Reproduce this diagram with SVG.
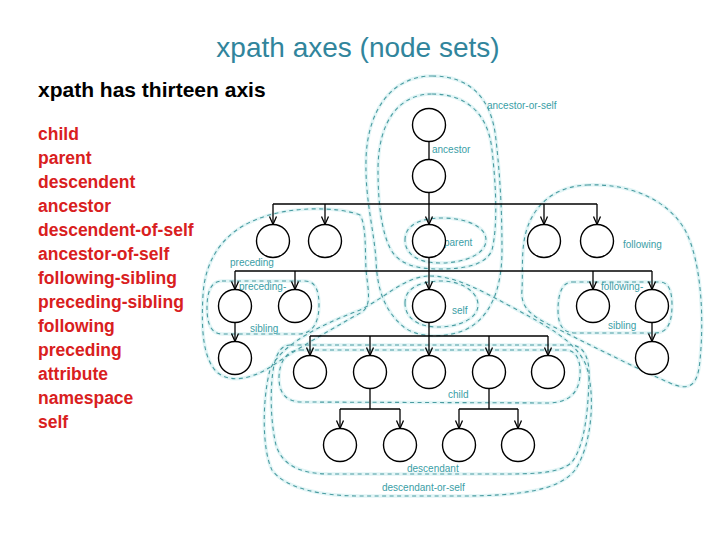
<svg xmlns="http://www.w3.org/2000/svg" width="720" height="540" viewBox="0 0 720 540">
<style>
.title{font-family:"Liberation Sans",Arial,sans-serif;font-size:28px;fill:#31859c}
.sub{font-family:"Liberation Sans",Arial,sans-serif;font-size:21px;font-weight:bold;fill:#000}
.item{font-family:"Liberation Sans",Arial,sans-serif;font-size:17.5px;font-weight:bold;fill:#d9201e}
.lbl{font-family:"Liberation Sans",Arial,sans-serif;font-size:10px;fill:#3a9ea6}
.glow{fill:none;stroke:#e2f5f6;stroke-width:3.5}
.dash{fill:none;stroke:#4a9ca1;stroke-width:1.1;stroke-dasharray:4 3.5}
.node circle{fill:#fff;stroke:#000;stroke-width:1.4}
.edge{fill:none;stroke:#000;stroke-width:1.3}
.arr{marker-end:url(#ah)}
</style>
<defs>
<marker id="ah" viewBox="-10 -5 12 10" refX="0" refY="0" markerWidth="12" markerHeight="10" markerUnits="userSpaceOnUse" orient="auto">
<path d="M-8,-3.5 L0,0 L-8,3.5" fill="none" stroke="#000" stroke-width="1.3"/>
</marker>
<path id="cAos" d="M432,76 C470,76 492,98 496,140 C500,175 502,210 502,250 C502,290 490,318 465,330 C445,338 420,338 405,328 C385,312 377,290 376,260 C374,230 365,200 366,160 C367,110 392,76 432,76 Z"/>
<path id="cAnc" d="M432,94 C465,94 488,112 492,150 C496,185 498,225 492,250 C486,265 465,269 440,269 C415,269 398,264 390,248 C382,232 378,205 378,170 C378,120 400,94 432,94 Z"/>
<path id="cPar" d="M405,240 C405,225 420,218 442,218 C465,218 486,226 486,240 C486,254 465,263 440,263 C418,263 405,254 405,240 Z"/>
<path id="cSelf" d="M405,303 C405,288 420,281 442,281 C462,281 478,292 478,305 C478,318 460,327 438,327 C418,327 405,318 405,303 Z"/>
<path id="cDos" d="M430,276 C455,276 480,290 510,306 C545,325 575,340 586,365 C596,395 592,445 575,470 C560,490 520,496 460,496 L360,496 C320,496 285,488 272,470 C262,450 262,400 270,370 C280,345 320,325 360,310 C385,298 405,276 430,276 Z"/>
<path id="cDesc" d="M290,345 L570,345 C585,345 590,360 589,380 C588,410 585,445 572,462 C560,474 530,474 500,474 L330,474 C300,474 282,465 276,445 C270,420 270,385 274,365 C277,352 282,345 290,345 Z"/>
<path id="cChild" d="M300,350 L565,350 C576,350 581,360 580,375 C579,392 570,402 550,403 L300,402 C285,401 279,392 279,378 C279,362 287,350 300,350 Z"/>
<path id="cPrec" d="M360,215 C340,207 290,205 255,220 C225,232 205,258 203,295 C201,330 203,360 218,373 C232,384 255,378 275,364 C300,347 330,330 362,312 C372,305 368,290 366,270 C365,245 366,225 360,215 Z"/>
<path id="cFol" d="M587,185 C630,183 668,200 685,230 C702,262 704,320 700,360 C698,385 690,392 670,383 C640,370 600,350 560,330 C535,318 520,310 522,290 C523,270 521,250 526,232 C535,200 560,186 587,185 Z"/>
<path id="cPs" d="M222,281 L305,281 C315,281 319,290 319,305 C319,322 313,333 300,334 L222,334 C212,334 207,325 207,308 C207,290 212,281 222,281 Z"/>
<path id="cFs" d="M572,282 L660,282 C668,282 672,290 672,305 C672,322 668,333 655,333 L575,333 C563,333 558,325 558,310 C558,292 563,282 572,282 Z"/>
</defs>

<text class="title" x="358" y="57" text-anchor="middle">xpath axes (node sets)</text>
<text class="sub" x="38" y="97">xpath has thirteen axis</text>
<g id="axis-list">
<text class="item" x="38" y="140">child</text>
<text class="item" x="38" y="164">parent</text>
<text class="item" x="38" y="188">descendent</text>
<text class="item" x="38" y="212">ancestor</text>
<text class="item" x="38" y="236">descendent-of-self</text>
<text class="item" x="38" y="260">ancestor-of-self</text>
<text class="item" x="38" y="284">following-sibling</text>
<text class="item" x="38" y="308">preceding-sibling</text>
<text class="item" x="38" y="332">following</text>
<text class="item" x="38" y="356">preceding</text>
<text class="item" x="38" y="380">attribute</text>
<text class="item" x="38" y="404">namespace</text>
<text class="item" x="38" y="428">self</text>
</g>

<g id="regions">
<use href="#cAos" class="glow"/><use href="#cAnc" class="glow"/><use href="#cPar" class="glow"/><use href="#cSelf" class="glow"/>
<use href="#cDos" class="glow"/><use href="#cDesc" class="glow"/><use href="#cChild" class="glow"/><use href="#cPrec" class="glow"/>
<use href="#cFol" class="glow"/><use href="#cPs" class="glow"/><use href="#cFs" class="glow"/>
<use href="#cAos" class="dash"/><use href="#cAnc" class="dash"/><use href="#cPar" class="dash"/><use href="#cSelf" class="dash"/>
<use href="#cDos" class="dash"/><use href="#cDesc" class="dash"/><use href="#cChild" class="dash"/><use href="#cPrec" class="dash"/>
<use href="#cFol" class="dash"/><use href="#cPs" class="dash"/><use href="#cFs" class="dash"/>
</g>

<g id="region-labels">
<text class="lbl" x="487" y="109">ancestor-or-self</text>
<text class="lbl" x="432" y="153">ancestor</text>
<text class="lbl" x="444" y="246">parent</text>
<text class="lbl" x="623" y="248">following</text>
<text class="lbl" x="230" y="266">preceding</text>
<text class="lbl" x="239" y="290">preceding-</text>
<text class="lbl" x="452" y="314">self</text>
<text class="lbl" x="601" y="290">following-</text>
<text class="lbl" x="250" y="332">sibling</text>
<text class="lbl" x="608" y="329">sibling</text>
<text class="lbl" x="448" y="398">child</text>
<text class="lbl" x="407" y="472">descendant</text>
<text class="lbl" x="382" y="491">descendant-or-self</text>
</g>

<g id="connectors">
<path class="edge" d="M429,142 V159.5"/>
<path class="edge arr" d="M429,192.5 V224.5"/>
<path class="edge" d="M273,204 H597"/>
<path class="edge arr" d="M273,204 V224.5"/>
<path class="edge arr" d="M325,204 V224.5"/>
<path class="edge arr" d="M544,204 V224.5"/>
<path class="edge arr" d="M597,204 V224.5"/>
<path class="edge arr" d="M429,257.5 V289.5"/>
<path class="edge" d="M235,271 H652"/>
<path class="edge arr" d="M235,271 V289.5"/>
<path class="edge arr" d="M295,271 V289.5"/>
<path class="edge arr" d="M593,271 V289.5"/>
<path class="edge arr" d="M652,271 V289.5"/>
<path class="edge arr" d="M429,322.5 V355.5"/>
<path class="edge" d="M310,336 H548"/>
<path class="edge arr" d="M310,336 V355.5"/>
<path class="edge arr" d="M370,336 V355.5"/>
<path class="edge arr" d="M489,336 V355.5"/>
<path class="edge arr" d="M548,336 V355.5"/>
<path class="edge arr" d="M235,322.5 V341.5"/>
<path class="edge arr" d="M652,322.5 V341.5"/>
<path class="edge" d="M370,388.5 V409 M340,409 H400"/>
<path class="edge arr" d="M340,409 V428.5"/>
<path class="edge arr" d="M400,409 V428.5"/>
<path class="edge" d="M489,388.5 V409 M459,409 H518"/>
<path class="edge arr" d="M459,409 V428.5"/>
<path class="edge arr" d="M518,409 V428.5"/>
</g>

<g id="n-root" class="node"><circle cx="429" cy="125" r="16.5"/></g>
<g id="n-ancestor" class="node"><circle cx="429" cy="176" r="16.5"/></g>
<g id="n-r1a" class="node"><circle cx="273" cy="241" r="16.5"/></g>
<g id="n-r1b" class="node"><circle cx="325" cy="241" r="16.5"/></g>
<g id="n-parent" class="node"><circle cx="429" cy="241" r="16.5"/></g>
<g id="n-r1d" class="node"><circle cx="544" cy="241" r="16.5"/></g>
<g id="n-r1e" class="node"><circle cx="597" cy="241" r="16.5"/></g>
<g id="n-ps1" class="node"><circle cx="235" cy="306" r="16.5"/></g>
<g id="n-ps2" class="node"><circle cx="295" cy="306" r="16.5"/></g>
<g id="n-self" class="node"><circle cx="429" cy="306" r="16.5"/></g>
<g id="n-fs1" class="node"><circle cx="593" cy="306" r="16.5"/></g>
<g id="n-fs2" class="node"><circle cx="652" cy="306" r="16.5"/></g>
<g id="n-prec" class="node"><circle cx="235" cy="358" r="16.5"/></g>
<g id="n-fol" class="node"><circle cx="652" cy="358" r="16.5"/></g>
<g id="n-c1" class="node"><circle cx="310" cy="372" r="16.5"/></g>
<g id="n-c2" class="node"><circle cx="370" cy="372" r="16.5"/></g>
<g id="n-c3" class="node"><circle cx="429" cy="372" r="16.5"/></g>
<g id="n-c4" class="node"><circle cx="489" cy="372" r="16.5"/></g>
<g id="n-c5" class="node"><circle cx="548" cy="372" r="16.5"/></g>
<g id="n-d1" class="node"><circle cx="340" cy="445" r="16.5"/></g>
<g id="n-d2" class="node"><circle cx="400" cy="445" r="16.5"/></g>
<g id="n-d3" class="node"><circle cx="459" cy="445" r="16.5"/></g>
<g id="n-d4" class="node"><circle cx="518" cy="445" r="16.5"/></g>
</svg>
